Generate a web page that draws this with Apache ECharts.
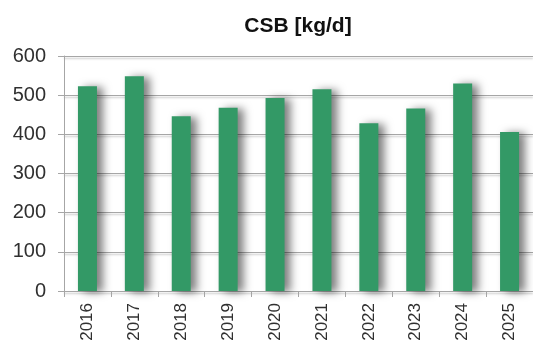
<!DOCTYPE html>
<html>
<head>
<meta charset="utf-8">
<script src="https://cdn.jsdelivr.net/npm/echarts@6/dist/echarts.min.js"></script>
<style>
  html, body { margin: 0; padding: 0; background: #ffffff; }
  #chart { width: 533px; height: 347px; }
</style>
</head>
<body>
<div id="chart"></div>
<script>
// Daily CSB load per year
var years = ['2016', '2017', '2018', '2019', '2020', '2021', '2022', '2023', '2024', '2025'];
var csbLoad = [523, 548, 446, 468, 493, 515, 428, 466, 530, 406];
var yTicks = [0, 100, 200, 300, 400, 500, 600];

var chart = echarts.init(document.getElementById('chart'), null, { renderer: 'canvas' });

chart.setOption({
  animation: false,
  backgroundColor: '#ffffff',
  title: {
    text: 'CSB [kg/d]',
    left: 293,
    top: 11,
    textAlign: 'center',
    textStyle: {
      fontFamily: 'Liberation Sans, Arial, sans-serif',
      fontSize: 21,
      fontWeight: 'bold',
      color: '#111111'
    }
  },
  grid: {
    left: 64,
    right: -3,
    top: 56,
    bottom: 56,
    containLabel: false
  },
  xAxis: {
    type: 'category',
    data: years,
    boundaryGap: true,
    axisLine: { show: true, lineStyle: { color: '#a6a6a6', width: 1 } },
    axisTick: { show: true, length: 6, alignWithLabel: false, lineStyle: { color: '#a6a6a6' } },
    axisLabel: {
      rotate: 90,
      margin: 12,
      interval: 0,
      fontFamily: 'Liberation Sans, Arial, sans-serif',
      fontSize: 17,
      color: '#303030'
    },
    splitLine: { show: false }
  },
  yAxis: {
    type: 'value',
    min: yTicks[0],
    max: yTicks[yTicks.length - 1],
    interval: yTicks[1] - yTicks[0],
    axisLine: { show: true, lineStyle: { color: '#a6a6a6', width: 1 } },
    axisTick: { show: true, length: 6, lineStyle: { color: '#a6a6a6' } },
    axisLabel: {
      margin: 18,
      fontFamily: 'Liberation Sans, Arial, sans-serif',
      fontSize: 20,
      color: '#303030'
    },
    splitLine: {
      show: true,
      lineStyle: {
        color: '#a6a6a6',
        width: 1,
        shadowColor: 'rgba(0,0,0,0.25)',
        shadowBlur: 2,
        shadowOffsetY: 2
      }
    }
  },
  series: [{
    type: 'bar',
    data: csbLoad,
    barWidth: 19,
    itemStyle: {
      color: '#339966',
      shadowColor: 'rgba(0,0,0,0.5)',
      shadowBlur: 8,
      shadowOffsetX: 6,
      shadowOffsetY: 1
    }
  }]
});
</script>
</body>
</html>
